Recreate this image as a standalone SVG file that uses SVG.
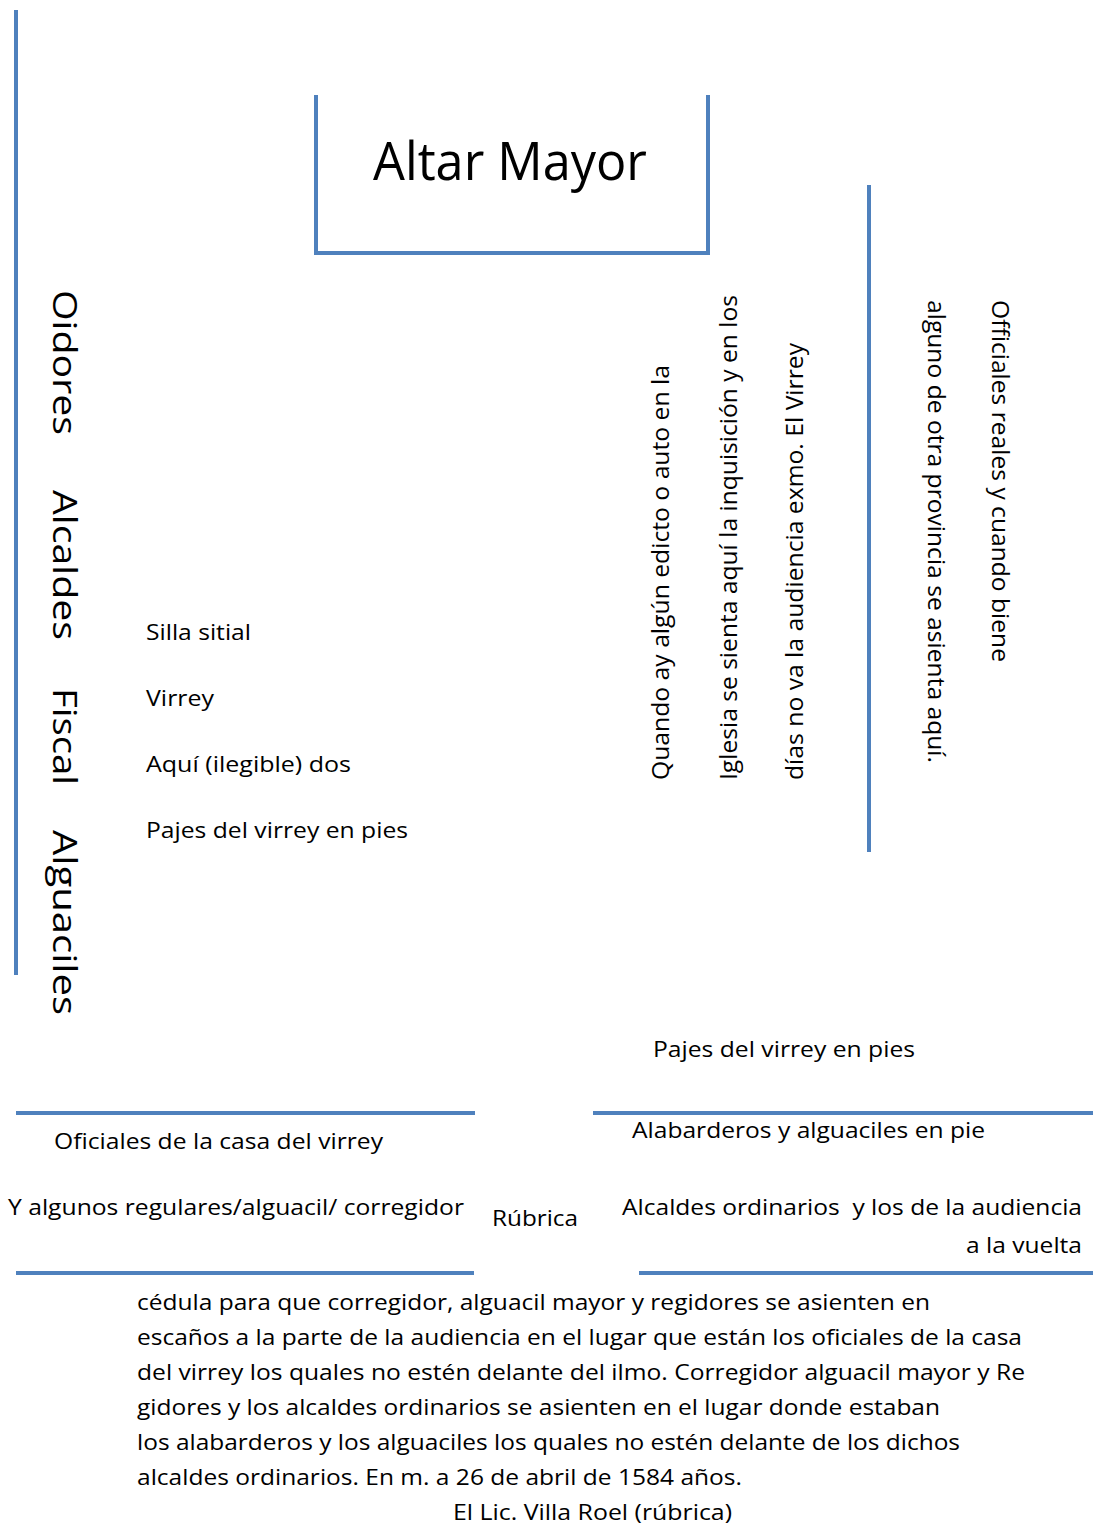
<svg xmlns="http://www.w3.org/2000/svg" width="1093" height="1525" viewBox="0 0 1093 1525">
<style>
.wall{stroke:#4f81bd;stroke-width:4;fill:none}
.t{font-family:"Open Sans","Liberation Sans",sans-serif;fill:#000;font-size:22px}
.big{font-size:32px}
.vt{font-size:23px}
.title{font-size:53px}
</style>
<rect width="1093" height="1525" fill="#fff"/>
<g id="walls">
<line class="wall" x1="16" y1="10" x2="16" y2="975"/>
<polyline class="wall" points="316,95 316,253 708,253 708,95"/>
<line class="wall" x1="869" y1="185" x2="869" y2="852"/>
<line class="wall" x1="16" y1="1113" x2="475" y2="1113"/>
<line class="wall" x1="16" y1="1273" x2="474" y2="1273"/>
<line class="wall" x1="593" y1="1113" x2="1093" y2="1113"/>
<line class="wall" x1="639" y1="1273" x2="1093" y2="1273"/>
</g>
<g id="altar"><text class="t title" x="373" y="180" textLength="274" lengthAdjust="spacingAndGlyphs">Altar Mayor</text></g>
<g id="left-benches">
<text class="t big" transform="translate(53,290) rotate(90)" textLength="145" lengthAdjust="spacingAndGlyphs">Oidores</text>
<text class="t big" transform="translate(53,490) rotate(90)" textLength="150" lengthAdjust="spacingAndGlyphs">Alcaldes</text>
<text class="t big" transform="translate(53,688) rotate(90)" textLength="97" lengthAdjust="spacingAndGlyphs">Fiscal</text>
<text class="t big" transform="translate(53,830) rotate(90)" textLength="185" lengthAdjust="spacingAndGlyphs">Alguaciles</text>
</g>
<g id="virrey-seat">
<text class="t" x="146" y="640" textLength="105" lengthAdjust="spacingAndGlyphs">Silla sitial</text>
<text class="t" x="146" y="706" textLength="68" lengthAdjust="spacingAndGlyphs">Virrey</text>
<text class="t" x="146" y="772" textLength="205" lengthAdjust="spacingAndGlyphs">Aquí (ilegible) dos</text>
<text class="t" x="146" y="838" textLength="262" lengthAdjust="spacingAndGlyphs">Pajes del virrey en pies</text>
</g>
<g id="inquisicion-note">
<text class="t vt" transform="translate(669,780) rotate(-90)" textLength="415" lengthAdjust="spacingAndGlyphs">Quando ay algún edicto o auto en la</text>
<text class="t vt" transform="translate(737,780) rotate(-90)" textLength="485" lengthAdjust="spacingAndGlyphs">Iglesia se sienta aquí la inquisición y en los</text>
<text class="t vt" transform="translate(803,780) rotate(-90)" textLength="437" lengthAdjust="spacingAndGlyphs">días no va la audiencia exmo. El Virrey</text>
</g>
<g id="oficiales-reales">
<text class="t vt" transform="translate(928,300) rotate(90)" textLength="463" lengthAdjust="spacingAndGlyphs">alguno de otra provincia se asienta aquí.</text>
<text class="t vt" transform="translate(992,300) rotate(90)" textLength="362" lengthAdjust="spacingAndGlyphs">Officiales reales y cuando biene</text>
</g>
<g id="pajes-right"><text class="t" x="653" y="1057" textLength="262" lengthAdjust="spacingAndGlyphs">Pajes del virrey en pies</text></g>
<g id="left-bench-bottom">
<text class="t" x="54" y="1149" textLength="329" lengthAdjust="spacingAndGlyphs">Oficiales de la casa del virrey</text>
<text class="t" x="8" y="1215" textLength="456" lengthAdjust="spacingAndGlyphs">Y algunos regulares/alguacil/ corregidor</text>
</g>
<g id="rubrica"><text class="t" x="492" y="1226" textLength="86" lengthAdjust="spacingAndGlyphs">Rúbrica</text></g>
<g id="right-bench-bottom">
<text class="t" x="632" y="1138" textLength="353" lengthAdjust="spacingAndGlyphs">Alabarderos y alguaciles en pie</text>
<text class="t" x="622" y="1215" textLength="460" lengthAdjust="spacingAndGlyphs" xml:space="preserve">Alcaldes ordinarios  y los de la audiencia</text>
<text class="t" x="966" y="1253" textLength="116" lengthAdjust="spacingAndGlyphs">a la vuelta</text>
</g>
<g id="cedula">
<text class="t" x="137" y="1310" textLength="793" lengthAdjust="spacingAndGlyphs">cédula para que corregidor, alguacil mayor y regidores se asienten en</text>
<text class="t" x="137" y="1345" textLength="885" lengthAdjust="spacingAndGlyphs">escaños a la parte de la audiencia en el lugar que están los oficiales de la casa</text>
<text class="t" x="137" y="1380" textLength="888" lengthAdjust="spacingAndGlyphs">del virrey los quales no estén delante del ilmo. Corregidor alguacil mayor y Re</text>
<text class="t" x="137" y="1415" textLength="803" lengthAdjust="spacingAndGlyphs">gidores y los alcaldes ordinarios se asienten en el lugar donde estaban</text>
<text class="t" x="137" y="1450" textLength="823" lengthAdjust="spacingAndGlyphs">los alabarderos y los alguaciles los quales no estén delante de los dichos</text>
<text class="t" x="137" y="1485" textLength="605" lengthAdjust="spacingAndGlyphs">alcaldes ordinarios. En m. a 26 de abril de 1584 años.</text>
<text class="t" x="453" y="1520" textLength="279" lengthAdjust="spacingAndGlyphs">El Lic. Villa Roel (rúbrica)</text>
</g>
</svg>
